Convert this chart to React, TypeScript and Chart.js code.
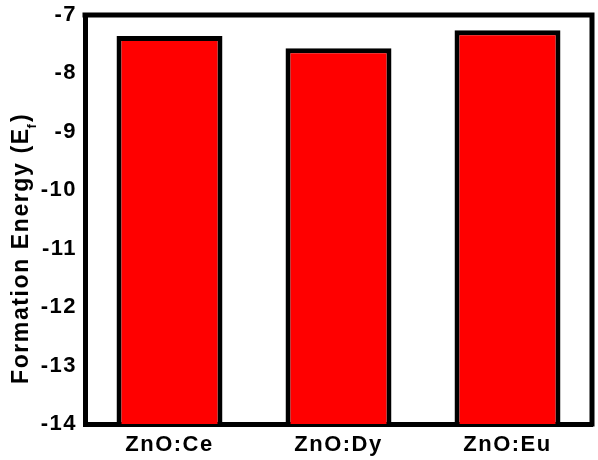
import React, { useEffect, useRef } from "react";
import { Chart, registerables } from "chart.js";

Chart.register(...registerables);

const categories = ["ZnO:Ce", "ZnO:Dy", "ZnO:Eu"];
const formationEnergy = [-7.36, -7.57, -7.26];
const yMin = -14;
const yMax = -7;

const FONT = '"Liberation Sans", Arial, sans-serif';
const SPACING = "1.5px";

const spacingPlugin = {
  id: "spacing",
  beforeLayout(chart: any) {
    chart.ctx.letterSpacing = SPACING;
  },
  beforeDraw(chart: any) {
    chart.ctx.letterSpacing = SPACING;
  },
};

const framePlugin = {
  id: "frame",
  afterDraw(chart: any) {
    const { ctx, chartArea } = chart;
    const { left, right, top, bottom } = chartArea;
    ctx.save();
    ctx.strokeStyle = "#000";
    ctx.lineWidth = 5;
    ctx.beginPath();
    ctx.moveTo(left - 2.5, top);
    ctx.lineTo(right, top);
    ctx.moveTo(right, top - 2.5);
    ctx.lineTo(right, bottom + 2.5);
    ctx.stroke();

    // Y axis title with subscript f
    ctx.letterSpacing = "1.6px";
    ctx.fillStyle = "#000";
    ctx.translate(28, 384);
    ctx.rotate(-Math.PI / 2);
    ctx.textAlign = "left";
    ctx.textBaseline = "alphabetic";
    ctx.font = `bold 23px ${FONT}`;
    const main = "Formation Energy (E";
    ctx.fillText(main, 0, 0);
    let w = ctx.measureText(main).width;
    ctx.font = `bold 13px ${FONT}`;
    ctx.letterSpacing = "0px";
    ctx.fillText("f", w - 1, 8);
    w += ctx.measureText("f").width;
    ctx.font = `bold 23px ${FONT}`;
    ctx.letterSpacing = "1.6px";
    ctx.fillText(")", w + 1, 0);
    ctx.restore();
  },
};

export default function App() {
  const ref = useRef<HTMLCanvasElement | null>(null);

  useEffect(() => {
    if (!ref.current) return;
    const chart = new Chart(ref.current, {
      type: "bar",
      data: {
        labels: categories,
        datasets: [
          {
            data: formationEnergy,
            base: yMin,
            backgroundColor: "#ff0000",
            borderColor: "#000000",
            borderWidth: 5,
            borderSkipped: "start",
            barPercentage: 0.627,
            categoryPercentage: 1,
          } as any,
        ],
      },
      options: {
        animation: false,
        responsive: false,
        maintainAspectRatio: false,
        layout: { padding: { left: 0, top: 15, right: 6, bottom: 0 } },
        plugins: {
          legend: { display: false },
          tooltip: { enabled: false },
          title: { display: false },
        },
        scales: {
          x: {
            z: 1,
            grid: { display: false, drawTicks: false },
            border: { display: true, color: "#000", width: 5 },
            ticks: {
              color: "#000",
              padding: 8,
              font: { family: FONT, size: 22, weight: "bold" },
            },
            afterFit(scale: any) {
              scale.height = 36;
              scale.paddingLeft = 0;
              scale.paddingRight = 0;
            },
          },
          y: {
            z: 1,
            min: yMin,
            max: yMax,
            grid: { display: false, drawTicks: false },
            border: { display: true, color: "#000", width: 5 },
            ticks: {
              stepSize: 1,
              color: "#000",
              padding: 8,
              font: { family: FONT, size: 22, weight: "bold" },
            },
            afterFit(scale: any) {
              scale.width = 85;
              scale.paddingTop = 0;
              scale.paddingBottom = 0;
            },
          },
        },
      },
      plugins: [spacingPlugin, framePlugin],
    });
    return () => chart.destroy();
  }, []);

  return (
    <div style={{ position: "absolute", left: 0, top: 0, width: 598, height: 460, background: "#fff" }}>
      <canvas ref={ref} width={598} height={460} style={{ display: "block" }} />
    </div>
  );
}
